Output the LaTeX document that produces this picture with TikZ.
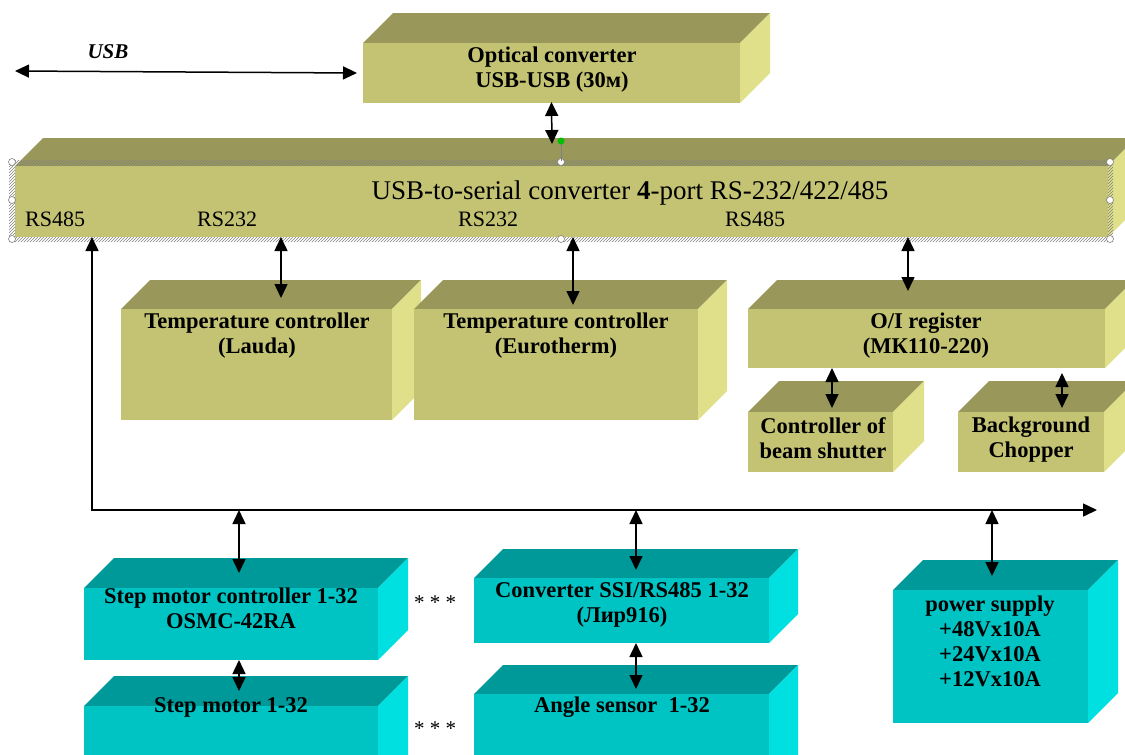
\documentclass[tikz,border=0pt]{standalone}
\usepackage{fontspec}
\setmainfont{Liberation Serif}
\usetikzlibrary{arrows.meta,patterns}
\definecolor{olF}{HTML}{C3C373}
\definecolor{olT}{HTML}{99985A}
\definecolor{olS}{HTML}{E0E08A}
\definecolor{cyF}{HTML}{00C4C4}
\definecolor{cyT}{HTML}{009999}
\definecolor{cyS}{HTML}{00E0E0}
\tikzset{
  conn/.style={draw=black, line width=1.5pt, {Triangle[length=14pt,width=13pt]}-{Triangle[length=14pt,width=13pt]}},
  lbl/.style={font=\bfseries\fontsize{22.5}{25}\selectfont, align=center, inner sep=0pt, anchor=north},
  port/.style={font=\fontsize{22}{25}\selectfont, inner sep=0pt, anchor=base west},
  ttl/.style={font=\fontsize{27}{30}\selectfont, inner sep=0pt, anchor=north},
  handle/.style={draw=gray, fill=white, line width=0.6pt},
}
% name x1 y1 x2 y2 depth colourset
\newcommand\blk[7]{%
  \fill[#7T] (#2,#3) -- ({#2+#6},{#3-#6}) -- ({#4+#6},{#3-#6}) -- (#4,#3) -- cycle;
  \fill[#7S] (#4,#3) -- ({#4+#6},{#3-#6}) -- ({#4+#6},{#5-#6}) -- (#4,#5) -- cycle;
  \node[fill=#7F, inner sep=0pt, outer sep=0pt, minimum width={(#4-#2)*1pt}, minimum height={(#5-#3)*1pt}] (#1) at ({(#2+#4)/2},{(#3+#5)/2}) {};
}
\begin{document}
\begin{tikzpicture}[x=1pt,y=-1pt]
\useasboundingbox (0,0) rectangle (1125,755);
% boxes
\blk{opt}{363}{43}{740}{103}{30}{ol}
\blk{ser}{15}{166}{1108}{237}{28}{ol}
\blk{lauda}{121}{309}{392}{420}{29}{ol}
\blk{euro}{414}{309}{698}{420}{29}{ol}
\blk{oi}{748}{309}{1105}{368}{29}{ol}
\blk{shut}{748}{412}{893}{472}{31}{ol}
\blk{chop}{958}{412}{1104}{472}{31}{ol}
\blk{smc}{84}{588}{378}{660}{30}{cy}
\blk{sm}{84}{706}{378}{800}{30}{cy}
\blk{ssi}{474}{578}{769}{643}{29}{cy}
\blk{ang}{474}{694}{769}{800}{29}{cy}
\blk{ps}{893}{590}{1088}{723}{30}{cy}
% selection frame on the converter
\fill[pattern=north east lines, pattern color=gray, even odd rule]
  (9,160) rectangle (1113,242) (15,166) rectangle (1108,237);
\foreach \p in {(12,162),(561,162),(1110,162),(12,200),(1110,200),(12,239),(561,239),(1110,239)}
  \draw[handle] \p circle (3.5pt);
% coordinates
\coordinate (usbL) at (15,71);
\coordinate (serTop) at (552,144);
\coordinate (p1) at (92,237);
\coordinate (p2) at (281,237);
\coordinate (p3) at (573,237);
\coordinate (p4) at (908,237);
\coordinate (laudaIn) at (281,298);
\coordinate (euroIn) at (573,305);
\coordinate (oiIn) at (908,291);
\coordinate (busEnd) at (1097,510);
\coordinate (b1) at (239,510);
\coordinate (b2) at (636,510);
\coordinate (b3) at (992,510);
\coordinate (smcIn) at (239,573);
\coordinate (ssiIn) at (636,570);
\coordinate (psIn) at (992,576);
\coordinate (smIn) at (239,691);
\coordinate (angIn) at (636,689);
\coordinate (shutIn) at (832,408);
\coordinate (chopIn) at (1062,408);
% connectors
\draw[conn] (usbL) -- ([xshift=-6pt]opt.west);
\draw[conn] ([yshift=1pt]opt.south) -- (serTop);
\draw[conn] (p1) |- (busEnd);
\draw[conn] (p2) -- (laudaIn);
\draw[conn] (p3) -- (euroIn);
\draw[conn] (p4) -- (oiIn);
\draw[conn] (oi.south -| shutIn) -- (shutIn);
\draw[conn] ([yshift=-5pt]oi.south -| chopIn) -- (chopIn);
\draw[conn] (b1) -- (smcIn);
\draw[conn] (b2) -- (ssiIn);
\draw[conn] (b3) -- (psIn);
\draw[conn] (smc.south -| smIn) -- (smIn);
\draw[conn] (ssi.south -| angIn) -- (angIn);
\draw[gray, line width=0.6pt] (561,144) -- (561,161);
\fill[green!75!black] (561,141) circle (3.5pt);
% texts
\node[font=\bfseries\itshape\fontsize{21}{24}\selectfont, inner sep=0pt, anchor=base] (tusb) at (108,58) {USB};
\node[lbl] (topt) at (552,47) {Optical converter\\USB-USB (30м)};
\node[ttl] (tser) at (630,181) {USB-to-serial converter \textbf{4}-port RS-232/422/485};
\node[port] (r1) at (25,226) {RS485};
\node[port] (r2) at (197,226) {RS232};
\node[port] (r3) at (458,226) {RS232};
\node[port] (r4) at (725,226) {RS485};
\node[lbl] (tlauda) at (257,313) {Temperature controller\\(Lauda)};
\node[lbl] (teuro) at (556,313) {Temperature controller\\(Eurotherm)};
\node[lbl] (toi) at (926,313) {O/I register\\(МК110-220)};
\node[lbl] (tshut) at (823,417) {Controller of\\beam shutter};
\node[lbl] (tchop) at (1031,417) {Background\\Chopper};
\node[lbl] (tsmc) at (231,588) {Step motor controller 1-32\\OSMC-42RA};
\node[lbl] (tssi) at (622,582) {Converter SSI/RS485 1-32\\(Лир916)};
\node[lbl] (tsm) at (231,697) {Step motor 1-32};
\node[lbl] (tang) at (622,697) {Angle sensor\ \ 1-32};
\node[lbl] (tps) at (990,596) {power supply\\+48Vx10A\\+24Vx10A\\+12Vx10A};
\node[font=\fontsize{21}{24}\selectfont, inner sep=0pt] (d1) at (435,603) {* * *};
\node[font=\fontsize{21}{24}\selectfont, inner sep=0pt] (d2) at (435,729) {* * *};
\end{tikzpicture}
\end{document}
